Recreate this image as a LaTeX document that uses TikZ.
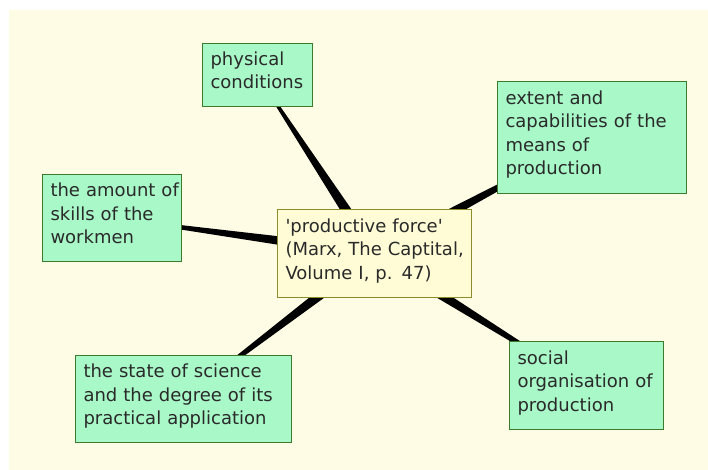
\documentclass[tikz,border=0pt]{standalone}
\usepackage{fontspec}
\setmainfont{DejaVu Sans}[Ligatures=TeXOff]
\usetikzlibrary{calc}
\pgfdeclarelayer{bg}
\pgfdeclarelayer{edges}
\pgfsetlayers{bg,edges,main}
\definecolor{bgc}{HTML}{FFFCE6}
\definecolor{gfill}{HTML}{A8F8C8}
\definecolor{gdraw}{HTML}{3C7A2E}
\definecolor{cfill}{HTML}{FFFCD6}
\definecolor{cdraw}{HTML}{8C8C2A}
\definecolor{txt}{HTML}{2A2A2A}
\newcommand{\tl}[1]{\begin{tabular}{@{}l@{}}#1\\[5pt]\end{tabular}}
\newcommand{\taper}[2]{\fill[black] ($(#1.center)!6.2pt!90:(#2.center)$) -- ($(#2.center)!0.8pt!-90:(#1.center)$) -- ($(#2.center)!0.8pt!90:(#1.center)$) -- ($(#1.center)!6.2pt!-90:(#2.center)$) -- cycle;}
\tikzset{
  box/.style n args={2}{rectangle, line width=1.5pt, inner xsep=8pt, inner ysep=0pt,
    align=left, font=\fontsize{18}{23.5}\selectfont, text=txt,
    minimum width=#1, minimum height=#2, text width=#1-16pt},
  greenbox/.style 2 args={box={#1}{#2}, draw=gdraw, fill=gfill},
  midbox/.style 2 args={box={#1}{#2}, draw=cdraw, fill=cfill}
}
\begin{document}
\begin{tikzpicture}[x=1pt,y=-1pt]
\useasboundingbox (0,0) rectangle (708,470);
\begin{pgfonlayer}{bg}
  \fill[bgc] (9,10) rectangle (708,470);
\end{pgfonlayer}
\node[midbox={194pt}{88pt}] (c) at (374.5,253.5) {\tl{'productive force'\\(Marx, The Captital,\\Volume I, p. 47)}};
\node[greenbox={110pt}{63pt}] (phys) at (257.5,75) {\tl{physical\\conditions}};
\node[greenbox={189pt}{112pt}] (ext) at (592,137.5) {\tl{extent and\\capabilities of the\\means of\\production}};
\node[greenbox={139pt}{87pt}] (amt) at (112,218) {\tl{the amount of\\skills of the\\workmen}};
\node[greenbox={216pt}{87pt}] (sci) at (183.5,399) {\tl{the state of science\\and the degree of its\\practical application}};
\node[greenbox={154pt}{88pt}] (soc) at (586.5,385.5) {\tl{social\\organisation of\\production}};
\begin{pgfonlayer}{edges}
  \taper{c}{phys}
  \taper{c}{ext}
  \taper{c}{amt}
  \taper{c}{sci}
  \taper{c}{soc}
\end{pgfonlayer}
\end{tikzpicture}
\end{document}
